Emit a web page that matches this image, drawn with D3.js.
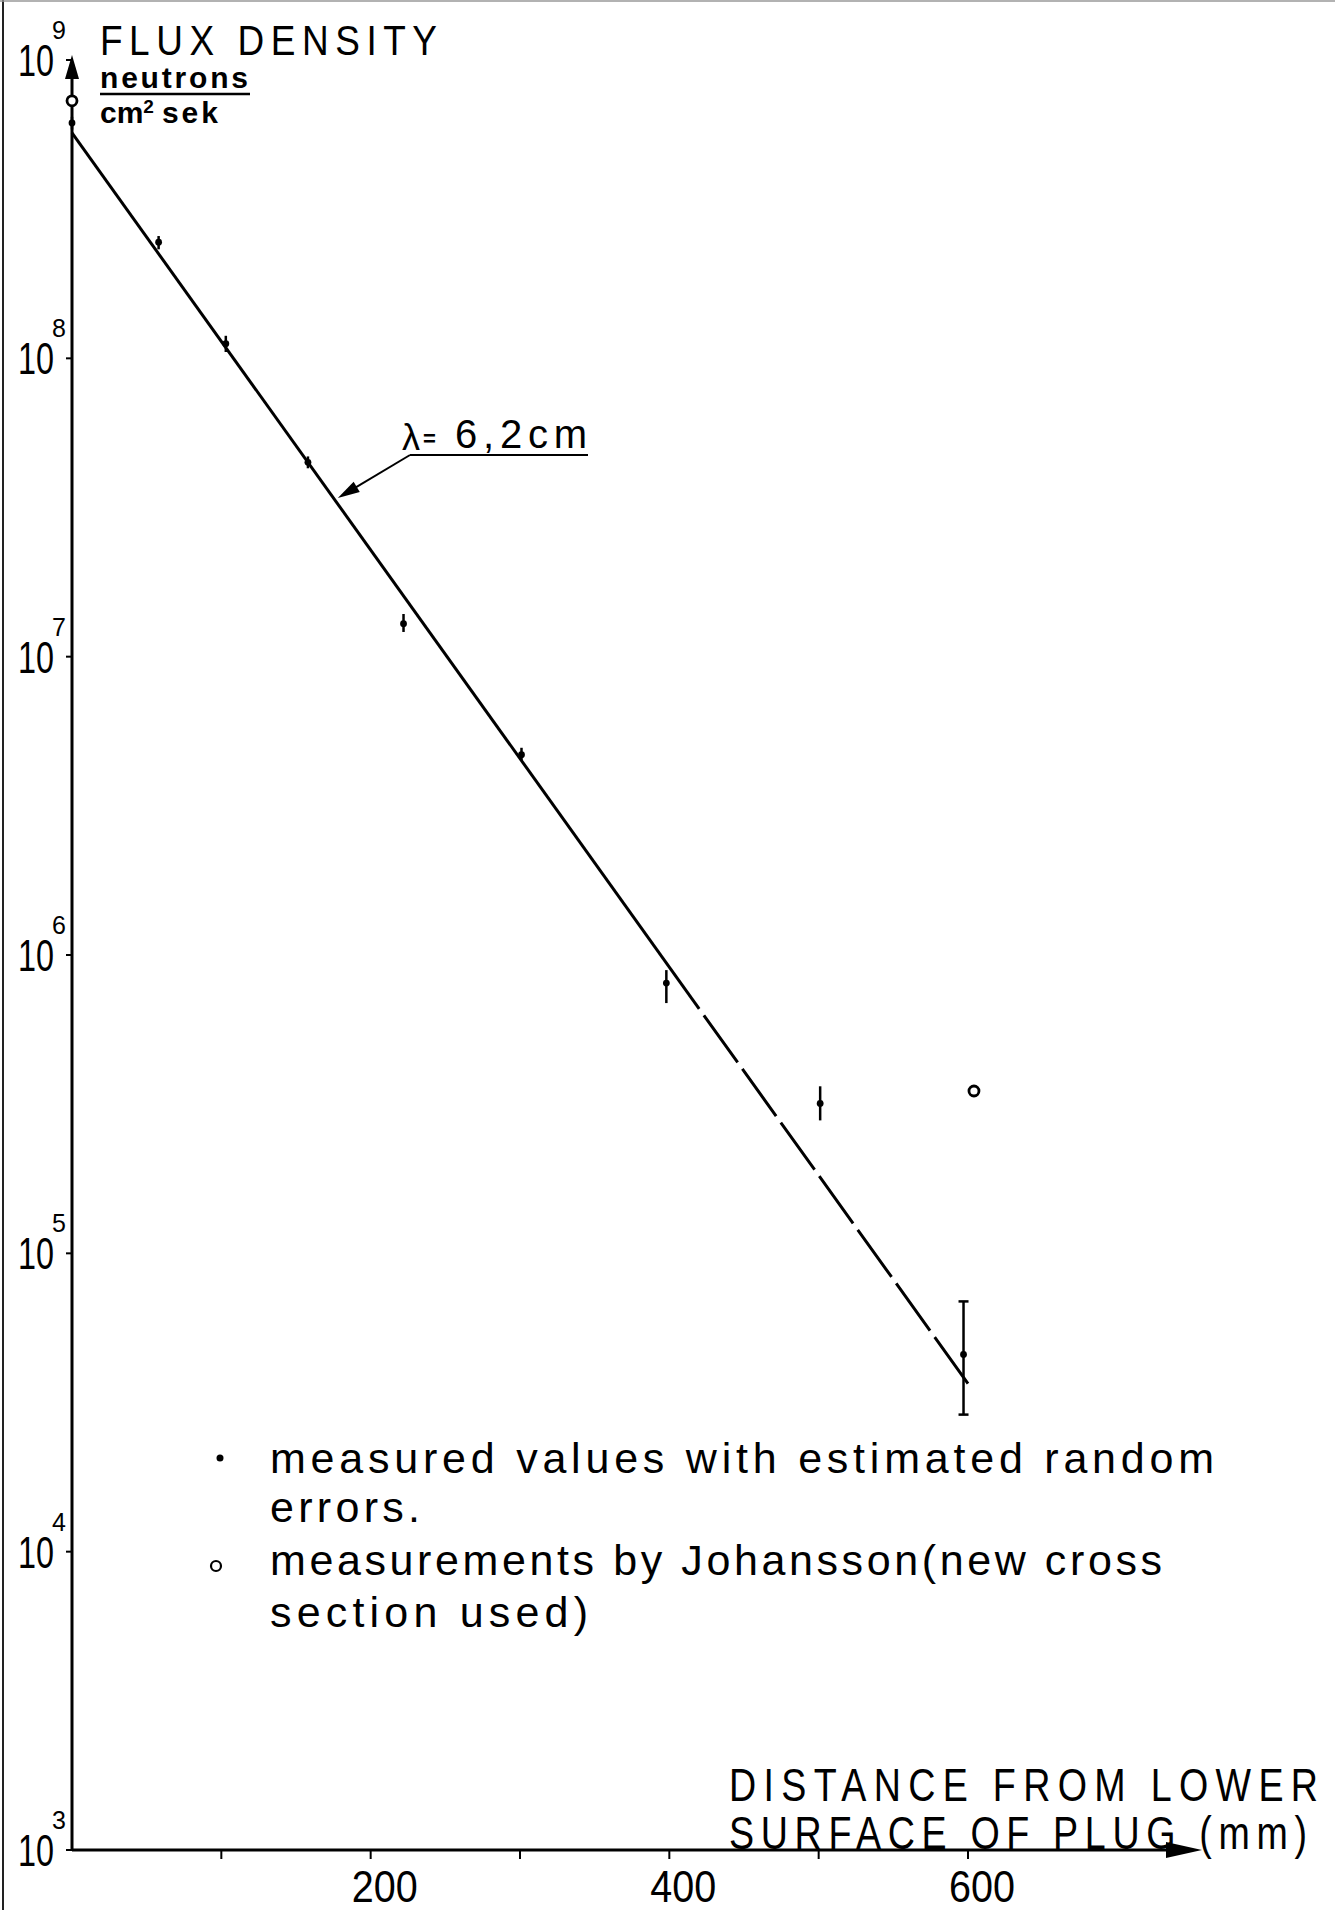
<!DOCTYPE html>
<html>
<head>
<meta charset="utf-8">
<script src="https://cdn.jsdelivr.net/npm/d3@7"></script>
<style>
  body { margin: 0; background: #fff; }
</style>
</head>
<body>
<script>
// measured values (mm from lower surface, neutrons / cm2 sek)
const distances = [0, 58, 103, 158, 222, 301, 398, 501, 597];
const fluxValues = [6.15e8, 2.45e8, 1.12e8, 4.48e7, 1.29e7, 4.69e6, 8.05e5, 3.18e5, 4.58e4];
const fluxLow = [5.85e8, 2.32e8, 1.05e8, 4.28e7, 1.21e7, 4.48e6, 6.9e5, 2.79e5, 2.88e4];
const fluxHigh = [6.45e8, 2.57e8, 1.19e8, 4.69e7, 1.39e7, 4.95e6, 8.9e5, 3.63e5, 6.9e4];
const capped = [false, false, false, false, false, false, false, false, true];

// Johansson measurements (open circles)
const johanssonDistances = [0, 604];
const johanssonValues = [7.3e8, 3.5e5];

// fitted line, solid part then dashed part
const fitSolid = [[0, 5.7e8], [420, 6.6e5]];
const fitDashed = [[420, 6.6e5], [600, 3.66e4]];

const xTickValues = [100, 200, 300, 400, 500, 600];
const xLabelValues = [200, 400, 600];
const decades = [1e3, 1e4, 1e5, 1e6, 1e7, 1e8, 1e9];
const exponents = ["3", "4", "5", "6", "7", "8", "9"];

const legendLines = [
  "measured values with estimated random",
  "errors.",
  "measurements by Johansson(new cross",
  "section used)"
];
const legendWidths = [944, 150, 892, 318];

const W = 1335, H = 1910;
const sans = "'Liberation Sans', 'DejaVu Sans', sans-serif";

const svg = d3.select("body")
  .append("svg")
  .attr("width", W)
  .attr("height", H);

// scanned page edges
svg.append("line")
  .attr("x1", 3).attr("x2", 3).attr("y1", 0).attr("y2", H)
  .attr("stroke", "#222").attr("stroke-width", 2);
svg.append("line")
  .attr("x1", 0).attr("x2", W).attr("y1", 1).attr("y2", 1)
  .attr("stroke", "#999").attr("stroke-width", 1.5);

const x = d3.scaleLinear().domain([0, 600]).range([72, 968]);
const y = d3.scaleLog().domain([1e3, 1e9]).range([1850, 60]);

// fit text into a measured width
function fitText(sel, size, width, squeeze) {
  return sel
    .style("font-family", sans)
    .style("font-size", size + "px")
    .attr("textLength", width)
    .attr("lengthAdjust", squeeze ? "spacingAndGlyphs" : "spacing");
}

// narrow stencil lettering: condensed glyphs, spaced out to a width
function stencil(px, py, str, size, width, squeeze) {
  svg.append("g")
    .attr("transform", `translate(${px},${py}) scale(${squeeze},1)`)
    .append("text")
    .call(fitText, size, width / squeeze, false)
    .text(str);
}

// axes
const axisColor = "#000";
svg.append("line")
  .attr("x1", x(0)).attr("x2", x(0))
  .attr("y1", y(1e3)).attr("y2", 76)
  .attr("stroke", axisColor).attr("stroke-width", 3);
svg.append("path")
  .attr("d", `M${x(0)},55 L${x(0) - 7},79 L${x(0) + 7},79 Z`)
  .attr("fill", axisColor);

svg.append("line")
  .attr("x1", x(0)).attr("x2", 1172)
  .attr("y1", y(1e3)).attr("y2", y(1e3))
  .attr("stroke", axisColor).attr("stroke-width", 3);
svg.append("path")
  .attr("d", `M1202,${y(1e3)} L1166,${y(1e3) - 8} L1166,${y(1e3) + 8} Z`)
  .attr("fill", axisColor);

// x ticks
svg.selectAll(".xtick")
  .data(xTickValues)
  .enter()
  .append("line")
  .attr("class", "xtick")
  .attr("x1", (d) => x(d)).attr("x2", (d) => x(d))
  .attr("y1", y(1e3)).attr("y2", y(1e3) + 9)
  .attr("stroke", axisColor).attr("stroke-width", 2);

svg.selectAll(".xlabel")
  .data(xLabelValues)
  .enter()
  .append("text")
  .attr("class", "xlabel")
  .attr("x", (d) => x(d) - 19)
  .attr("y", 1902)
  .call(fitText, 44, 66, true)
  .text((d) => d);

// y ticks + labels
svg.selectAll(".ytick")
  .data(decades)
  .enter()
  .append("line")
  .attr("class", "ytick")
  .attr("x1", x(0) - 6).attr("x2", x(0))
  .attr("y1", (d) => y(d)).attr("y2", (d) => y(d))
  .attr("stroke", axisColor).attr("stroke-width", 2);

const ylab = svg.selectAll(".ylabel")
  .data(decades)
  .enter()
  .append("g")
  .attr("class", "ylabel")
  .attr("transform", (d) => `translate(0,${y(d)})`);

ylab.append("text")
  .attr("x", 18)
  .attr("y", 16)
  .call(fitText, 44, 36, true)
  .text("10");

ylab.append("text")
  .attr("x", 52)
  .attr("y", -21)
  .style("font-family", sans)
  .style("font-size", "25px")
  .text((d, i) => exponents[i]);

// y axis title
stencil(100, 55, "FLUX DENSITY", 43, 337, 0.86);

svg.append("text")
  .attr("x", 100).attr("y", 88)
  .attr("textLength", 148)
  .attr("lengthAdjust", "spacing")
  .style("font-family", sans)
  .style("font-size", "30px")
  .style("font-weight", "bold")
  .text("neutrons");

svg.append("line")
  .attr("x1", 100).attr("x2", 250)
  .attr("y1", 94).attr("y2", 94)
  .attr("stroke", "#000").attr("stroke-width", 2.5);

const unit = svg.append("text")
  .attr("x", 100).attr("y", 123)
  .style("font-family", sans)
  .style("font-size", "30px")
  .style("font-weight", "bold");
unit.append("tspan").text("cm");
unit.append("tspan").attr("dy", -10).style("font-size", "19px").text("2");
unit.append("tspan").attr("dy", 10).attr("dx", 8).attr("letter-spacing", 3).text("sek");

// x axis title
stencil(729, 1801, "DISTANCE FROM LOWER", 47, 589, 0.8);
stencil(729, 1849, "SURFACE OF PLUG (mm)", 47, 578, 0.8);

// fitted line
const line = d3.line()
  .x((d) => x(d[0]))
  .y((d) => y(d[1]));

svg.append("path")
  .datum(fitSolid)
  .attr("d", line)
  .attr("fill", "none")
  .attr("stroke", "#000")
  .attr("stroke-width", 3);

svg.append("path")
  .datum(fitDashed)
  .attr("d", line)
  .attr("fill", "none")
  .attr("stroke", "#000")
  .attr("stroke-width", 3)
  .attr("stroke-dasharray", "58,8")
  .attr("stroke-dashoffset", 58);

// error bars and measured points
const pts = distances.map((d, i) => ({
  d: d, v: fluxValues[i], lo: fluxLow[i], hi: fluxHigh[i], cap: capped[i]
}));

svg.selectAll(".err")
  .data(pts)
  .enter()
  .append("line")
  .attr("class", "err")
  .attr("x1", (p) => x(p.d)).attr("x2", (p) => x(p.d))
  .attr("y1", (p) => y(p.hi)).attr("y2", (p) => y(p.lo))
  .attr("stroke", "#000").attr("stroke-width", 2.5);

const caps = pts.filter((p) => p.cap);
["hi", "lo"].forEach((k) => {
  svg.selectAll(".cap-" + k)
    .data(caps)
    .enter()
    .append("line")
    .attr("x1", (p) => x(p.d) - 5).attr("x2", (p) => x(p.d) + 5)
    .attr("y1", (p) => y(p[k])).attr("y2", (p) => y(p[k]))
    .attr("stroke", "#000").attr("stroke-width", 2.5);
});

svg.selectAll(".pt")
  .data(pts)
  .enter()
  .append("circle")
  .attr("class", "pt")
  .attr("cx", (p) => x(p.d))
  .attr("cy", (p) => y(p.v))
  .attr("r", 3.4)
  .attr("fill", "#000");

// Johansson
svg.selectAll(".joh")
  .data(johanssonDistances)
  .enter()
  .append("circle")
  .attr("class", "joh")
  .attr("cx", (d) => x(d))
  .attr("cy", (d, i) => y(johanssonValues[i]))
  .attr("r", 5)
  .attr("fill", "#fff")
  .attr("stroke", "#000")
  .attr("stroke-width", 2.8);

// lambda annotation
const tip = [178, 3.4e7];
svg.append("text")
  .attr("x", 402).attr("y", 450)
  .style("font-family", sans)
  .style("font-size", "36px")
  .text("\u03bb");
svg.append("text")
  .attr("x", 423).attr("y", 446)
  .style("font-family", sans)
  .style("font-size", "22px")
  .style("font-weight", "bold")
  .text("=");
svg.append("text")
  .attr("x", 455).attr("y", 448)
  .call(fitText, 40, 132, false)
  .text("6,2cm");
svg.append("line")
  .attr("x1", 410).attr("x2", 588)
  .attr("y1", 455).attr("y2", 455)
  .attr("stroke", "#000").attr("stroke-width", 2);

const tx = x(tip[0]), ty = y(tip[1]);
const sx = 410, sy = 455;
const ang = Math.atan2(ty - sy, tx - sx);
svg.append("line")
  .attr("x1", sx).attr("y1", sy)
  .attr("x2", tx - 18 * Math.cos(ang)).attr("y2", ty - 18 * Math.sin(ang))
  .attr("stroke", "#000").attr("stroke-width", 2);
const headLen = 22, headW = 6;
const bx = tx - headLen * Math.cos(ang), by = ty - headLen * Math.sin(ang);
svg.append("path")
  .attr("d", `M${tx},${ty} L${bx - headW * Math.sin(ang)},${by + headW * Math.cos(ang)} L${bx + headW * Math.sin(ang)},${by - headW * Math.cos(ang)} Z`)
  .attr("fill", "#000");

// legend
const legendY = [1473, 1522, 1575, 1627];
svg.append("circle")
  .attr("cx", 220).attr("cy", 1458).attr("r", 3.5).attr("fill", "#000");
svg.append("circle")
  .attr("cx", 216).attr("cy", 1566).attr("r", 5)
  .attr("fill", "#fff").attr("stroke", "#000").attr("stroke-width", 2.2);

svg.selectAll(".legend-text")
  .data(legendLines)
  .enter()
  .append("text")
  .attr("class", "legend-text")
  .attr("x", 270)
  .attr("y", (d, i) => legendY[i])
  .attr("textLength", (d, i) => legendWidths[i])
  .attr("lengthAdjust", "spacing")
  .style("font-family", sans)
  .style("font-size", "43px")
  .text((d) => d);
</script>
</body>
</html>
